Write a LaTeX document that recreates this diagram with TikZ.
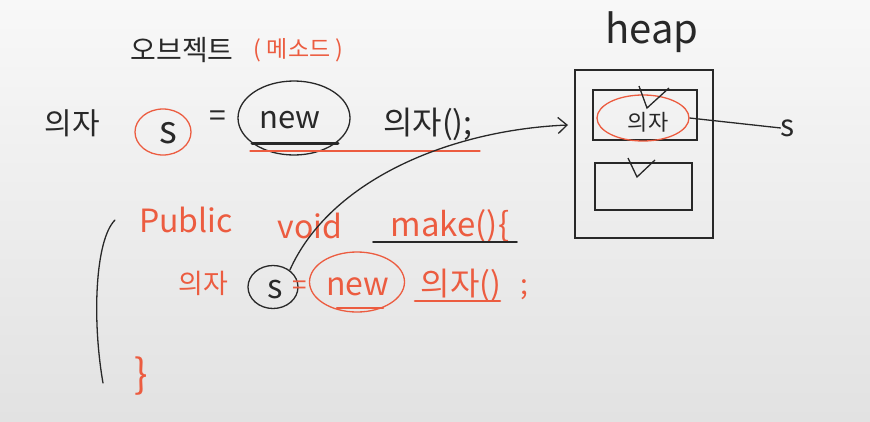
\documentclass[tikz,border=0pt]{standalone}
\usepackage{fontspec}
\setmainfont{Noto Sans CJK KR}
\usetikzlibrary{arrows.meta,positioning,shapes.geometric}
\definecolor{penred}{RGB}{236,92,64}
\definecolor{penblack}{RGB}{40,40,40}
\definecolor{paper}{RGB}{248,248,248}
\definecolor{papershade}{RGB}{226,226,226}
\newcommand\penfs[1]{\fontsize{#1}{#1}\selectfont}

\begin{document}
\begin{tikzpicture}[x=1pt,y=-1pt,
 ink/.style={text=penblack,inner sep=0pt},
 redink/.style={text=penred,inner sep=0pt},
 ring/.style={draw=#1,line width=1.3pt,ellipse,inner sep=0pt},
 uline/.style={draw=#1,line width=1.6pt,line cap=round},
 wall/.style={draw=penblack,line width=1.3pt,rectangle,inner sep=0pt},
 arr/.style={-{Straight Barb[length=9pt,width=16pt]},draw=penblack,line width=1.3pt}
]
\shade[top color=paper,bottom color=papershade] (0,0) rectangle (870,421);
\useasboundingbox (0,0) rectangle (870,421);

% top line
\node[ink,font=\penfs{28}] (objtitle) at (182,50) {오브젝트};
\node[redink,font=\penfs{23},right=20pt of objtitle] (methodnote) {( 메소드 )};
\node[ink,font=\penfs{30}] (cls1) at (72,123) {의자};
\node[ring=penred,minimum width=56pt,minimum height=46pt] (ring1) at (163,132) {};
\node[ink,font=\penfs{38}] (var1) at (168,133) {s};
\node[ink,font=\penfs{30}] (eq1) at (218,119) {=};
\node[ring=penblack,minimum width=112pt,minimum height=74pt] (ring2) at (294,118) {};
\node[ink,font=\penfs{31}] (new1) at (290,120) {new};
\node[ink,font=\penfs{32}] (ctor1) at (428,124) {의자();};
\draw[uline=penblack,line width=3pt] (252,143) -- (338,143);
\draw[uline=penred,line width=1.2pt] (250,151) -- (480,151);

% method
\node[redink,font=\penfs{32}] (kwpublic) at (186,220) {Public};
\node[redink,font=\penfs{32}] (kwvoid) at (310,226) {void};
\node[redink,font=\penfs{33}] (mname) at (450,226) {make()\{};
\draw[uline=penblack] (373,242) -- (517,242);
\node[redink,font=\penfs{27}] (cls2) at (203,283) {의자};
\node[ring=penblack,minimum width=50pt,minimum height=43pt] (var2) at (273,287) {};
\node[ink,font=\penfs{33}] (var2txt) at (275,290) {s};
\node[redink,font=\penfs{26}] (eq2) at (300,288) {=};
\node[ring=penred,minimum width=95pt,minimum height=60pt] (ring3) at (357,282) {};
\node[redink,font=\penfs{32}] (new2) at (358,287) {new};
\draw[uline=penred,line width=2.2pt] (337,308) -- (383,308);
\node[redink,font=\penfs{32}] (ctor2) at (461,285) {의자()};
\draw[uline=penred,line width=2.6pt] (415,301) -- (500,301);
\node[redink,font=\penfs{28}] (semi2) at (524,290) {;};
\node[redink,font=\penfs{40}] (close2) at (141,376) {\}};
\draw[draw=penblack,line width=1.3pt,line cap=round] (115,220) .. controls (95,240) and (92,320) .. (103,383);

% heap
\node[wall,minimum width=138pt,minimum height=168pt] (heap) at (644,154) {};
\node[ink,font=\penfs{40},above=16pt of heap,xshift=8pt] (heaplabel) {heap};
\node[wall,minimum width=104pt,minimum height=50pt] (objbox) at (645,115) {};
\node[wall,minimum width=97pt,minimum height=47pt] (emptybox) at (643.5,186.5) {};
\node[ring=penred,minimum width=92pt,minimum height=46pt] (objring) at (643,118) {};
\node[ink,font=\penfs{22}] (objname) at (648,122) {의자};
\draw[draw=penblack,line width=1.3pt] (639,86) -- (647,108) -- (669,88);
\draw[draw=penblack,line width=1.3pt] (628,158) -- (637,177) -- (655,160);
\node[ink,font=\penfs{30}] (refname) at (788,128) {s};
\draw[draw=penblack,line width=1.3pt] (objring.east) -- (refname.west);

% reference arrow
\coordinate (tip) at (568,125);
\draw[arr] (var2.45) .. controls (330,180) and (450,130) .. (tip);
\end{tikzpicture}
\end{document}
